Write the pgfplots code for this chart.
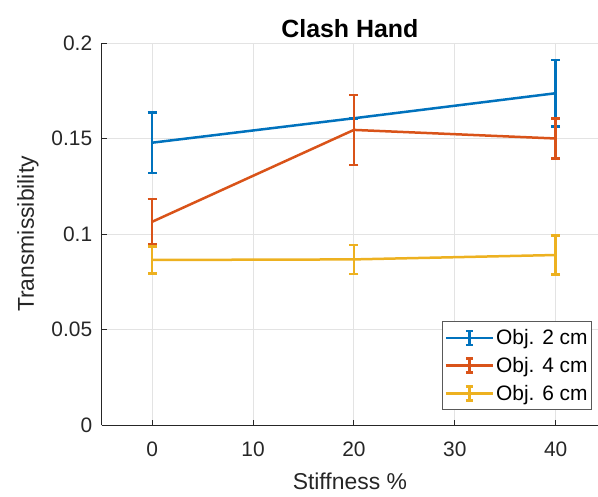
\documentclass[border=0pt]{standalone}
\usepackage{fontspec}
\setmainfont{Liberation Sans}
\usepackage{pgfplots}
\pgfplotsset{compat=1.18}
\definecolor{mblue}{RGB}{0,114,189}
\definecolor{morange}{RGB}{217,83,25}
\definecolor{myellow}{RGB}{237,177,32}
\definecolor{axgray}{RGB}{38,38,38}
\begin{document}
\begin{tikzpicture}
\begin{axis}[
  name=ax,
  scale only axis,
  width=496.3bp, height=382bp,
  xmin=-5, xmax=44.2, ymin=0, ymax=0.2,
  axis x line*=bottom, axis y line*=left,
  axis line style={axgray, line width=0.9bp},
  xtick={0,10,20,30,40},
  ytick={0,0.05,0.1,0.15,0.2},
  yticklabels={0,0.05,0.1,0.15,0.2},
  tick align=inside,
  major tick length=5bp,
  tick style={axgray, line width=0.8bp},
  grid=major,
  grid style={gray!22, line width=0.8bp},
  /pgf/number format/assume math mode=true,
  ticklabel style={font=\fontsize{21}{25}\selectfont, text=axgray},
  yticklabel style={xshift=-6bp},
  xticklabel style={yshift=-13bp},
  xlabel={Stiffness \%},
  ylabel={Transmissibility},
  label style={font=\fontsize{23}{27}\selectfont, text=axgray},
  xlabel style={yshift=-10bp},
  ylabel style={yshift=6bp},
  title={\textbf{Clash Hand}},
  title style={font=\fontsize{25}{30}\selectfont, yshift=-4bp},
  legend cell align=left,
  legend style={at={(1,0)}, anchor=south east, xshift=-6bp, yshift=15bp,
    font=\fontsize{21}{25}\selectfont, draw=black!65, line width=0.8bp,
    inner xsep=2bp, inner ysep=6bp, row sep=7bp},
  legend image code/.code={
    \draw[#1, line width=2.5bp, solid] (0bp,0bp) -- (47bp,0bp);
    \draw[#1, line width=2.5bp, solid] (23.5bp,-7bp) -- (23.5bp,7bp);
    \draw[#1, line width=2.5bp, solid] (20bp,7bp) -- (27bp,7bp);
    \draw[#1, line width=2.5bp, solid] (20bp,-7bp) -- (27bp,-7bp);
  },
  every axis plot/.append style={line width=2.5bp, mark=none},
]
\addplot[color=mblue, error bars/.cd, y dir=both, y explicit,
  error bar style={line width=2.5bp},
  error mark options={rotate=90, mark size=4.5bp, line width=2.5bp}] coordinates {
  (0,0.1478) +- (0,0.0158)
  (20,0.1606) +- (0,0)
  (40,0.1737) +- (0,0.0175)
};
\addlegendentry{Obj. 2 cm}
\addplot[color=morange, error bars/.cd, y dir=both, y explicit,
  error bar style={line width=2.5bp},
  error mark options={rotate=90, mark size=4.5bp, line width=2.5bp}] coordinates {
  (0,0.1064) +- (0,0.012)
  (20,0.1545) +- (0,0.0183)
  (40,0.1500) +- (0,0.0104)
};
\addlegendentry{Obj. 4 cm}
\addplot[color=myellow, error bars/.cd, y dir=both, y explicit,
  error bar style={line width=2.5bp},
  error mark options={rotate=90, mark size=4.5bp, line width=2.5bp}] coordinates {
  (0,0.0864) +- (0,0.0071)
  (20,0.0867) +- (0,0.0076)
  (40,0.0890) +- (0,0.0103)
};
\addlegendentry{Obj. 6 cm}
\end{axis}
\pgfresetboundingbox
\path[use as bounding box] ([xshift=-101.7bp,yshift=-72bp]ax.south west) rectangle ([yshift=43bp]ax.north east);
\end{tikzpicture}
\end{document}
